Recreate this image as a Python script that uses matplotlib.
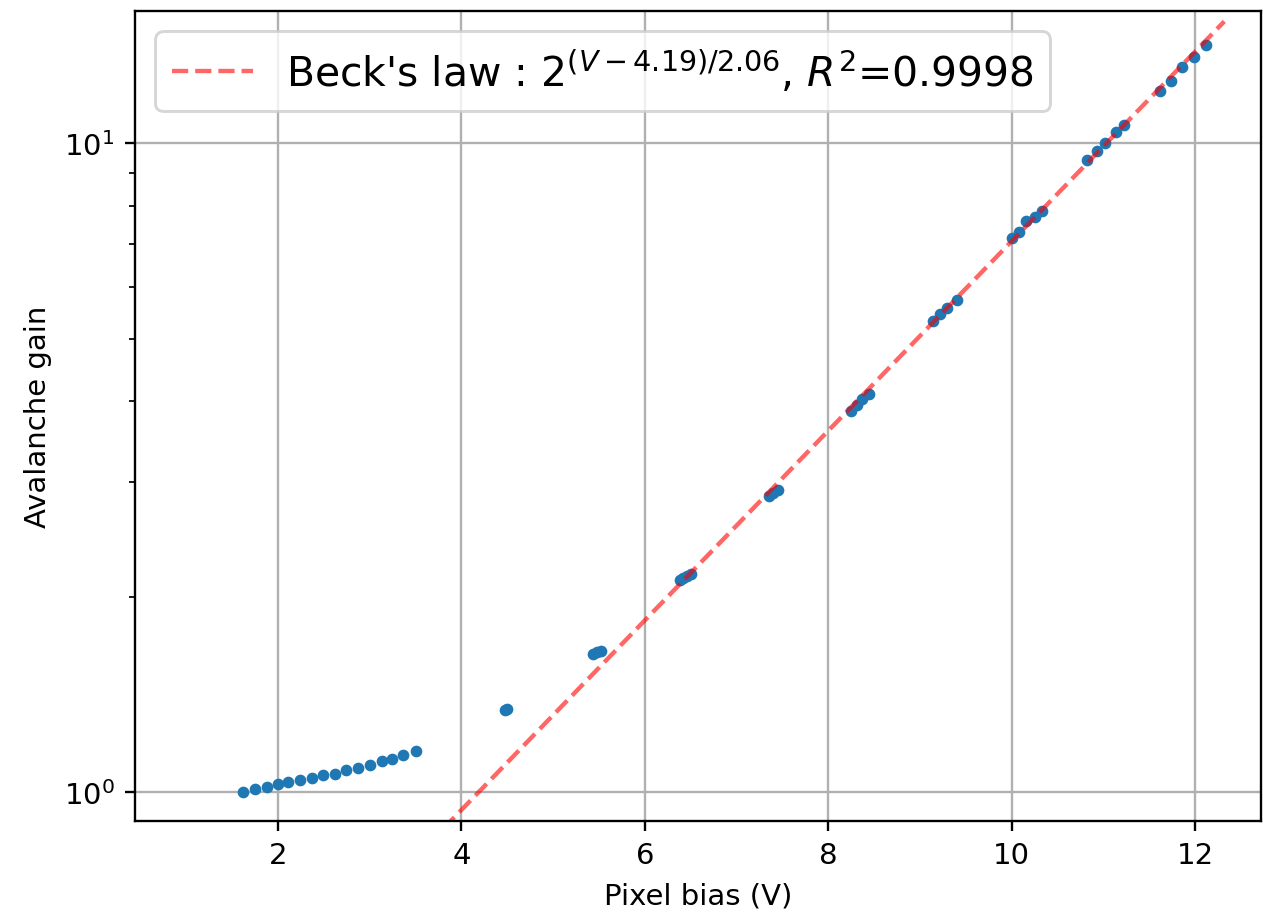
import numpy as np
import matplotlib
matplotlib.use("Agg")
import matplotlib.pyplot as plt

bias = [1.62, 1.75, 1.88, 2.00, 2.11, 2.24, 2.37, 2.49, 2.62, 2.74, 2.87, 3.00,
        3.13, 3.24, 3.36, 3.50,
        4.47, 4.50,
        5.44, 5.48, 5.52,
        6.38, 6.42, 6.46, 6.50,
        7.35, 7.40, 7.45,
        8.25, 8.31, 8.37, 8.45,
        9.14, 9.22, 9.30, 9.40,
        10.00, 10.08, 10.16, 10.25, 10.33,
        10.82, 10.93, 11.02, 11.14, 11.23,
        11.62, 11.74, 11.86, 11.99, 12.12]
gain = [0.999, 1.011, 1.017, 1.029, 1.037, 1.045, 1.051, 1.060, 1.066, 1.079, 1.089, 1.100,
        1.115, 1.124, 1.141, 1.158,
        1.337, 1.340,
        1.632, 1.642, 1.652,
        2.12, 2.14, 2.15, 2.17,
        2.86, 2.89, 2.92,
        3.87, 3.95, 4.03, 4.11,
        5.33, 5.45, 5.58, 5.73,
        7.14, 7.30, 7.58, 7.70, 7.86,
        9.41, 9.72, 10.0, 10.4, 10.67,
        12.05, 12.5, 13.1, 13.6, 14.2]

# Beck's law fit parameters
v0 = 4.19
vd = 2.06
r2 = 0.9998
fit_range = (3.8, 12.32)

dpi = 210
fig = plt.figure(figsize=(1263 / dpi, 914 / dpi), dpi=dpi)
ax = fig.add_axes([0.1069, 0.1007, 0.8915, 0.8862])

ax.plot(bias, gain, '.')
vfit = np.linspace(fit_range[0], fit_range[1], 200)
ax.plot(vfit, 2 ** ((vfit - v0) / vd), 'r--', alpha=0.6,
        label=r"Beck's law : $2^{(V-%.2f)/%.2f}$, $R^2$=%.4f" % (v0, vd, r2))

ax.set_yscale('log')
ax.set_xlim(0.44, 12.72)
ax.set_ylim(0.902, 16.0)
ax.grid()
ax.set_xlabel('Pixel bias (V)')
ax.set_ylabel('Avalanche gain')
ax.legend(loc='upper left', fontsize=14)

fig.savefig('out.png', dpi=dpi)
